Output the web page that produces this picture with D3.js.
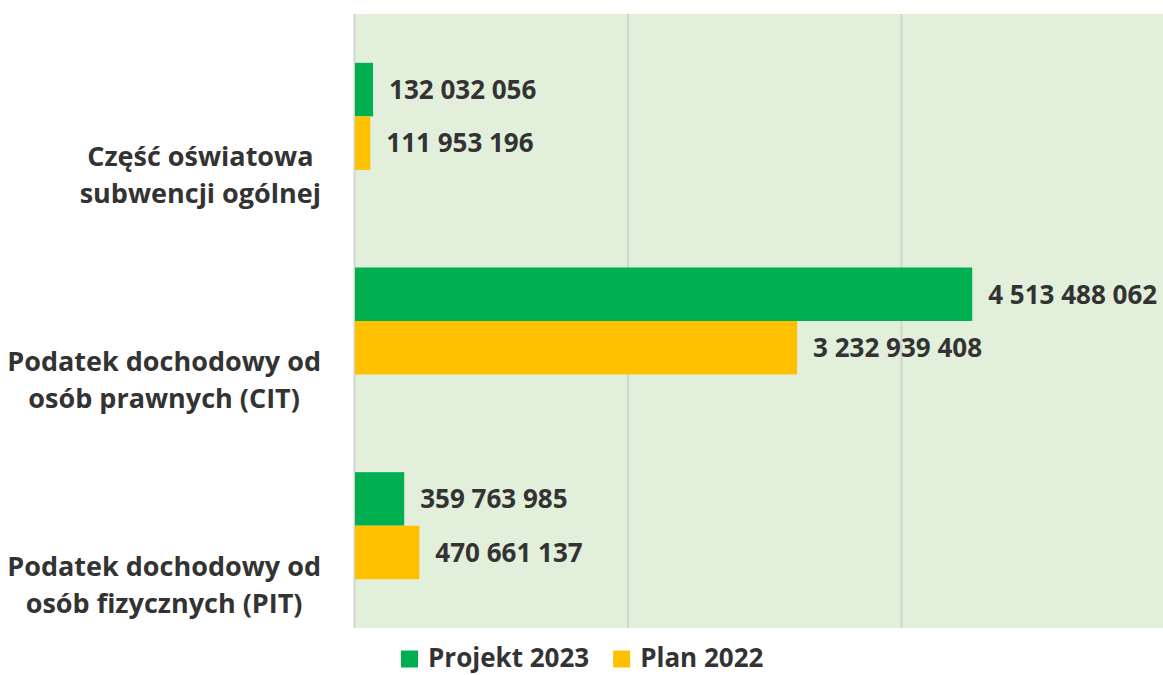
<!DOCTYPE html>
<html>
<head>
<meta charset="utf-8">
<script src="https://cdn.jsdelivr.net/npm/d3@7"></script>
<style>
  body { margin: 0; background: #fff; }
  svg { display: block; font-family: "Open Sans", Lato, sans-serif; }
</style>
</head>
<body>
<div id="chart"></div>
<script>
// Data
const categories = [
  "Część oświatowa subwencji ogólnej",
  "Podatek dochodowy od osób prawnych (CIT)",
  "Podatek dochodowy od osób fizycznych (PIT)"
];
const categoryLines = [
  ["Część oświatowa", "subwencji ogólnej"],
  ["Podatek dochodowy od", "osób prawnych (CIT)"],
  ["Podatek dochodowy od", "osób fizycznych (PIT)"]
];
const seriesNames = ["Projekt 2023", "Plan 2022"];
const projekt2023 = [132032056, 4513488062, 359763985];
const plan2022 = [111953196, 3232939408, 470661137];
const xTicks = [0, 2e9, 4e9, 6e9];

const colors = { "Projekt 2023": "#00B050", "Plan 2022": "#FFC000" };
const textColor = "#333333";

const width = 1163, height = 675;
const plot = { left: 355, top: 14, bottom: 628, right: 1175.5 };

const svg = d3.select("#chart").append("svg")
  .attr("width", width)
  .attr("height", height);

const x = d3.scaleLinear().domain([0, 6e9]).range([plot.left, plot.right]);
const y = d3.scaleBand().domain(categories).range([plot.top, plot.bottom]).padding(0);
const groupH = 107;
const ySub = d3.scaleBand().domain(seriesNames).range([0, groupH]);

// Plot background
svg.append("rect")
  .attr("x", plot.left)
  .attr("y", plot.top)
  .attr("width", plot.right - plot.left)
  .attr("height", plot.bottom - plot.top)
  .attr("fill", "#E2EFDA");

// Grid lines
svg.append("g")
  .selectAll("line")
  .data(xTicks)
  .enter()
  .append("line")
  .attr("x1", d => x(d) - 0.5)
  .attr("x2", d => x(d) - 0.5)
  .attr("y1", plot.top)
  .attr("y2", plot.bottom)
  .attr("stroke", "#D0D6CD")
  .attr("stroke-width", 2);

// Bars
const rows = categories.map((c, i) => ({
  cat: c,
  values: [
    { series: "Projekt 2023", value: projekt2023[i] },
    { series: "Plan 2022", value: plan2022[i] }
  ]
}));

const groups = svg.append("g")
  .selectAll("g")
  .data(rows)
  .enter()
  .append("g")
  .attr("transform", d => `translate(0,${y(d.cat) + y.bandwidth() / 2 - groupH / 2})`);

groups.selectAll("rect")
  .data(d => d.values)
  .enter()
  .append("rect")
  .attr("x", x(0))
  .attr("y", d => ySub(d.series))
  .attr("width", d => x(d.value) - x(0))
  .attr("height", ySub.bandwidth())
  .attr("fill", d => colors[d.series]);

const fmt = v => d3.format(",")(v).replace(/,/g, " ");

groups.selectAll("text")
  .data(d => d.values)
  .enter()
  .append("text")
  .attr("x", d => x(d.value) + 16)
  .attr("y", d => ySub(d.series) + ySub.bandwidth() / 2)
  .attr("dy", "0.36em")
  .attr("fill", textColor)
  .style("font-size", "26px")
  .style("font-weight", "bold")
  .text(d => fmt(d.value));

// Category labels (two lines, centered lines, block aligned right)
categories.forEach((c, i) => {
  const lines = categoryLines[i];
  const base = y(c) + y.bandwidth() / 2 + 68.5;
  const t = svg.append("text")
    .attr("fill", textColor)
    .attr("text-anchor", "middle")
    .style("font-size", "27px")
    .style("font-weight", "bold");
  const spans = lines.map((l, j) => t.append("tspan")
    .attr("y", base + (j - (lines.length - 1) / 2) * 37)
    .text(l));
  const maxW = d3.max(spans, s => s.node().getComputedTextLength());
  spans.forEach(s => s.attr("x", 321 - maxW / 2));
});

// Legend
const legend = svg.append("g").attr("transform", "translate(401,658)");
let lx = 0;
seriesNames.forEach(name => {
  const g = legend.append("g").attr("transform", `translate(${lx},0)`);
  g.append("rect")
    .attr("x", 0).attr("y", -7.5)
    .attr("width", 17).attr("height", 17)
    .attr("fill", colors[name]);
  const txt = g.append("text")
    .attr("x", 27)
    .attr("dy", "0.36em")
    .attr("fill", textColor)
    .style("font-size", "26px")
    .style("font-weight", "bold")
    .text(name);
  lx += 27 + txt.node().getComputedTextLength() + 24;
});
</script>
</body>
</html>
